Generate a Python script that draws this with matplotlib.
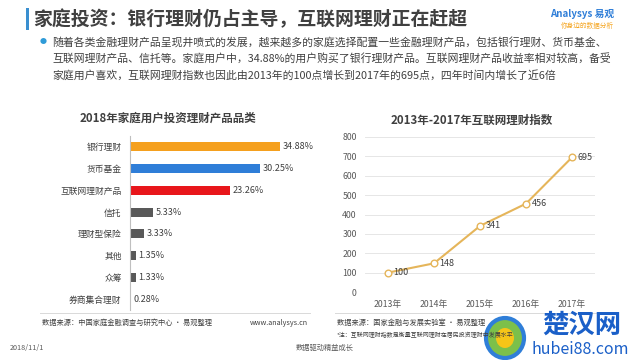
import matplotlib
matplotlib.use("Agg")
import matplotlib.pyplot as plt
from matplotlib.lines import Line2D
from matplotlib.patches import Rectangle, Ellipse

plt.rcParams['font.family'] = ['Noto Sans CJK SC', 'DejaVu Sans']

# ---- data ----
bar_categories = ["银行理财", "货币基金", "互联网理财产品", "信托", "理财型保险", "其他", "众筹", "券商集合理财"]
bar_values = [34.88, 30.25, 23.26, 5.33, 3.33, 1.35, 1.33, 0.28]
bar_colors = ["#F5A01E", "#2F7ED8", "#E8161B", "#595959", "#595959", "#595959", "#595959", "#595959"]

line_years = ["2013年", "2014年", "2015年", "2016年", "2017年"]
line_values = [100, 148, 341, 456, 695]
y_ticks = [0, 100, 200, 300, 400, 500, 600, 700, 800]

title = "家庭投资：银行理财仍占主导，互联网理财正在赶超"
bullet_lines = [
    "随着各类金融理财产品呈现井喷式的发展，越来越多的家庭选择配置一些金融理财产品，包括银行理财、货币基金、",
    "互联网理财产品、信托等。家庭用户中，34.88%的用户购买了银行理财产品。互联网理财产品收益率相对较高，备受",
    "家庭用户喜欢，互联网理财指数也因此由2013年的100点增长到2017年的695点，四年时间内增长了近6倍",
]

W, H = 640, 360
fig = plt.figure(figsize=(6.4, 3.6), dpi=100)
fig.patch.set_facecolor("white")

def fx(px):
    return px / W

def fy(py):
    return 1 - py / H

# ---- header ----
fig.patches.append(Rectangle((fx(26), fy(30)), fx(2.5), 22 / H, transform=fig.transFigure,
                             facecolor="#3A8FD0", edgecolor="none"))
fig.text(fx(33), fy(19), title, fontsize=13.6, fontweight="bold", color="#404040", va="center", ha="left")
fig.text(fx(614), fy(14), "Analysys 易观", fontsize=7, color="#2F7ED8", ha="right", va="center",
         style="italic", fontweight="bold")
fig.text(fx(614), fy(26), "你身边的数据分析", fontsize=4.8, color="#F5A623", ha="right", va="center")

fig.text(fx(40), fy(42), "●", fontsize=5, color="#2F9BD8", ha="left", va="center")
for i, ln in enumerate(bullet_lines):
    fig.text(fx(52), fy(42 + i * 16.5), ln, fontsize=7.8, color="#404040", ha="left", va="center")

# ---- left bar chart ----
ax1 = fig.add_axes([fx(130), fy(310), fx(172), (310 - 136) / H])
ypos = list(range(len(bar_categories)))
ax1.barh(ypos, bar_values, color=bar_colors, height=0.42)
ax1.set_ylim(len(bar_categories) - 0.5, -0.5)
ax1.set_xlim(0, 40)
ax1.set_yticks(ypos)
ax1.set_yticklabels(bar_categories, fontsize=6.3, color="#404040")
ax1.tick_params(axis="y", length=0, pad=6)
ax1.set_xticks([])
for s in ["top", "right", "bottom"]:
    ax1.spines[s].set_visible(False)
ax1.spines["left"].set_color("#BFBFBF")
ax1.spines["left"].set_linewidth(0.8)
for y, v in zip(ypos, bar_values):
    ax1.text(v + 0.6, y, f"{v:.2f}%", fontsize=6.5, color="#404040", va="center", ha="left")
fig.text(fx(168), fy(118), "2018年家庭用户投资理财产品品类", fontsize=8.3, fontweight="bold",
         color="#404040", ha="center", va="center")

# ---- right line chart ----
ax2 = fig.add_axes([fx(365), fy(292), fx(230), (292 - 137) / H])
xpos = list(range(len(line_years)))
ax2.plot(xpos, line_values, color="#E5B55A", linewidth=1.5, marker="o", markersize=4.8,
         markerfacecolor="white", markeredgecolor="#E5B55A", markeredgewidth=1.0, zorder=3)
ax2.set_xlim(-0.5, 4.5)
ax2.set_ylim(0, 800)
ax2.set_yticks(y_ticks)
ax2.set_yticklabels([str(t) for t in y_ticks], fontsize=6.3, color="#595959")
ax2.set_xticks(xpos)
ax2.set_xticklabels(line_years, fontsize=6.3, color="#595959")
ax2.tick_params(axis="both", length=0, pad=6)
ax2.grid(axis="y", color="#E6E6E6", linewidth=0.7)
ax2.set_axisbelow(True)
for s in ["top", "right", "left", "bottom"]:
    ax2.spines[s].set_visible(False)
for x, v in zip(xpos, line_values):
    ax2.annotate(str(v), (x, v), xytext=(4, 0), textcoords="offset points",
                 fontsize=6.5, color="#404040", va="center", ha="left")
fig.text(fx(472), fy(120), "2013年-2017年互联网理财指数", fontsize=8.3, fontweight="bold",
         color="#404040", ha="center", va="center")

# ---- footers ----
fig.add_artist(Line2D([fx(40), fx(310)], [fy(313), fy(313)], transform=fig.transFigure,
                      color="#D9D9D9", linewidth=0.7))
fig.add_artist(Line2D([fx(335), fx(605)], [fy(313), fy(313)], transform=fig.transFigure,
                      color="#D9D9D9", linewidth=0.7))
fig.text(fx(42), fy(323), "数据来源：中国家庭金融调查与研究中心 · 易观整理", fontsize=5.2, color="#404040",
         ha="left", va="center")
fig.text(fx(308), fy(323), "www.analysys.cn", fontsize=5.2, color="#404040", ha="right", va="center")
fig.text(fx(337), fy(323), "数据来源：国家金融与发展实验室 · 易观整理", fontsize=5.2, color="#404040",
         ha="left", va="center")
fig.text(fx(337), fy(335), "*注：互联网理财指数是衡量互联网理财在居民投资理财中发展水平", fontsize=4.3,
         color="#404040", ha="left", va="center")
fig.text(fx(10), fy(348), "2018/11/1", fontsize=5.2, color="#595959", ha="left", va="center")
fig.text(fx(325), fy(348), "数据驱动精益成长", fontsize=5.2, color="#595959", ha="center", va="center")

# site watermark
fig.patches.append(Ellipse((fx(505), fy(338)), 38 / W, 40 / H, transform=fig.transFigure,
                           facecolor="#7CC04A", edgecolor="#2F7ED8", linewidth=3))
fig.patches.append(Ellipse((fx(505), fy(338)), 18 / W, 20 / H, transform=fig.transFigure,
                           facecolor="#F5C518", edgecolor="none"))
fig.text(fx(582), fy(325), "楚汉网", fontsize=19, fontweight="bold", color="#1A5FC8",
         ha="center", va="center")
fig.text(fx(580), fy(350), "hubei88.com", fontsize=11.5, color="#1A5FC8", ha="center", va="center")

fig.savefig("out.png", dpi=100)
